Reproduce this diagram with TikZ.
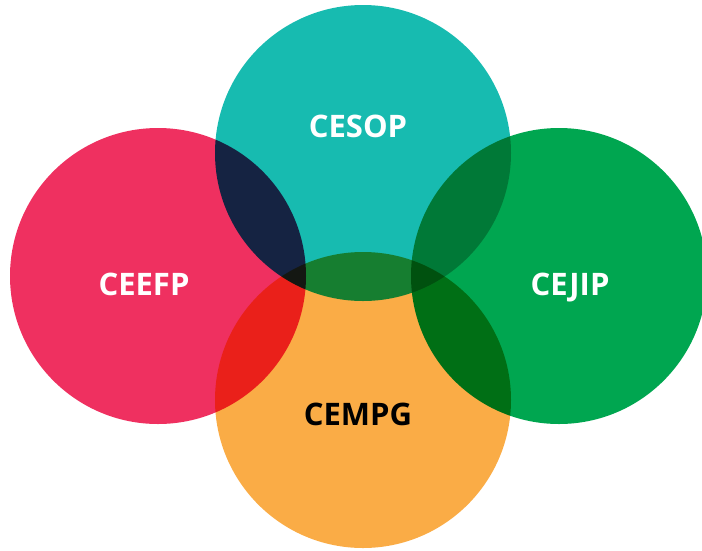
\documentclass[tikz,border=0pt]{standalone}
\usepackage{fontspec}
\setmainfont{Open Sans}
\usetikzlibrary{positioning}
\definecolor{cesopteal}{HTML}{17BBB0}
\definecolor{ceefppink}{HTML}{EF3060}
\definecolor{cejipgreen}{HTML}{00A650}
\definecolor{cempgorange}{HTML}{FAAC46}
\begin{document}
\begin{tikzpicture}[x=1pt, y=-1pt,
		ring/.style={circle, minimum size=296pt, inner sep=0pt},
		tag/.style={anchor=base, inner sep=0pt, font=\fontsize{31}{32}\selectfont\bfseries, text=white}
	]
	
	\useasboundingbox (0,0) rectangle (702,550);
	
	\begin{scope}[blend group=multiply]
		\node[ring, fill=cesopteal] (cesop) at (363,153) {};
		\node[ring, fill=ceefppink] (ceefp) at (158,276) {};
		\node[ring, fill=cejipgreen] (cejip) at (559,276) {};
		\node[ring, fill=cempgorange] (cempg) at (363,400) {};
	\end{scope}
	
	\node[tag] (cesoplbl) at (358,137) {CESOP};
	\node[tag] (ceefplbl) at (144,295) {CEEFP};
	\node[tag] (cejiplbl) at (570,295) {CEJIP};
	\node[tag, text=black] (cempglbl) at (358,425) {CEMPG};
\end{tikzpicture}
\end{document}
